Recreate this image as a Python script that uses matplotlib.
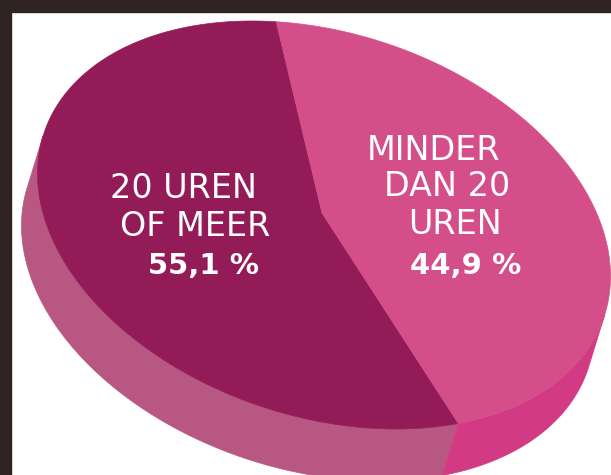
import numpy as np
import matplotlib.pyplot as plt
from matplotlib.patches import Polygon, Rectangle

# data
labels = [["20 UREN", "OF MEER"], ["MINDER", "DAN 20", "UREN"]]
shares = [55.1, 44.9]
pct_labels = ["55,1 %", "44,9 %"]
top_colors = ["#931b58", "#d44f8a"]
side_colors = ["#b85882", "#d23a83"]

# pie geometry in pixels (tilted disc seen from above)
cx, cy = 324, 225
apex = (322, 213)   # slices meet slightly above the rim's centre (perspective)
W, H, Sxy = 286.5, 204, -14700
p = W
q = Sxy / W
r = np.sqrt(H**2 - q**2)
depth = np.array([-16, 52])
start = 99.6

def ell(t):
    t = np.radians(t)
    x = cx + p * np.cos(t)
    y = cy - (q * np.cos(t) + r * np.sin(t))
    return np.column_stack([x, y])

Limg = np.array([[p, 0], [-q, -r]])
Minv = np.linalg.inv(Limg @ Limg.T)

fig = plt.figure(figsize=(6.11, 4.75), dpi=100)
ax = fig.add_axes([0, 0, 1, 1])
ax.set_xlim(0, 611)
ax.set_ylim(475, 0)
ax.axis('off')

bounds = start + 360 * np.concatenate([[0], np.cumsum(shares)]) / 100

# sides first
for i in range(len(shares)):
    t = np.linspace(bounds[i], bounds[i+1], 400)
    pts = ell(t)
    v = pts - [cx, cy]
    vis = (v @ Minv) @ depth > 0
    idx = np.where(vis)[0]
    if len(idx) == 0:
        continue
    runs = np.split(idx, np.where(np.diff(idx) > 1)[0] + 1)
    for run in runs:
        a = pts[run]
        poly = np.vstack([a, (a + depth)[::-1]])
        ax.add_patch(Polygon(poly, closed=True, facecolor=side_colors[i],
                             edgecolor=side_colors[i], lw=0.5))

# top faces
for i in range(len(shares)):
    t = np.linspace(bounds[i], bounds[i+1], 400)
    pts = np.vstack([apex, ell(t)])
    ax.add_patch(Polygon(pts, closed=True, facecolor=top_colors[i],
                         edgecolor=top_colors[i], lw=0.5))

# labels
label_pos = [[(184, 188), (195, 227)], [(434, 150), (447, 187), (455, 225)]]
pct_pos = [(204, 266), (466, 266)]
for i in range(len(shares)):
    for txt, (x, y) in zip(labels[i], label_pos[i]):
        ax.text(x, y, txt, color='white', fontsize=24, family='DejaVu Sans',
                fontweight='normal', ha='center', va='center')
    ax.text(pct_pos[i][0], pct_pos[i][1], pct_labels[i], color='white',
            fontsize=21, family='DejaVu Sans', fontweight='heavy',
            ha='center', va='center')

# dark frame
ax.add_patch(Rectangle((0, 0), 611, 12, color='#2f2421', zorder=5))
ax.add_patch(Rectangle((0, 0), 11, 475, color='#2f2421', zorder=5))

fig.savefig('out.png', dpi=100)
